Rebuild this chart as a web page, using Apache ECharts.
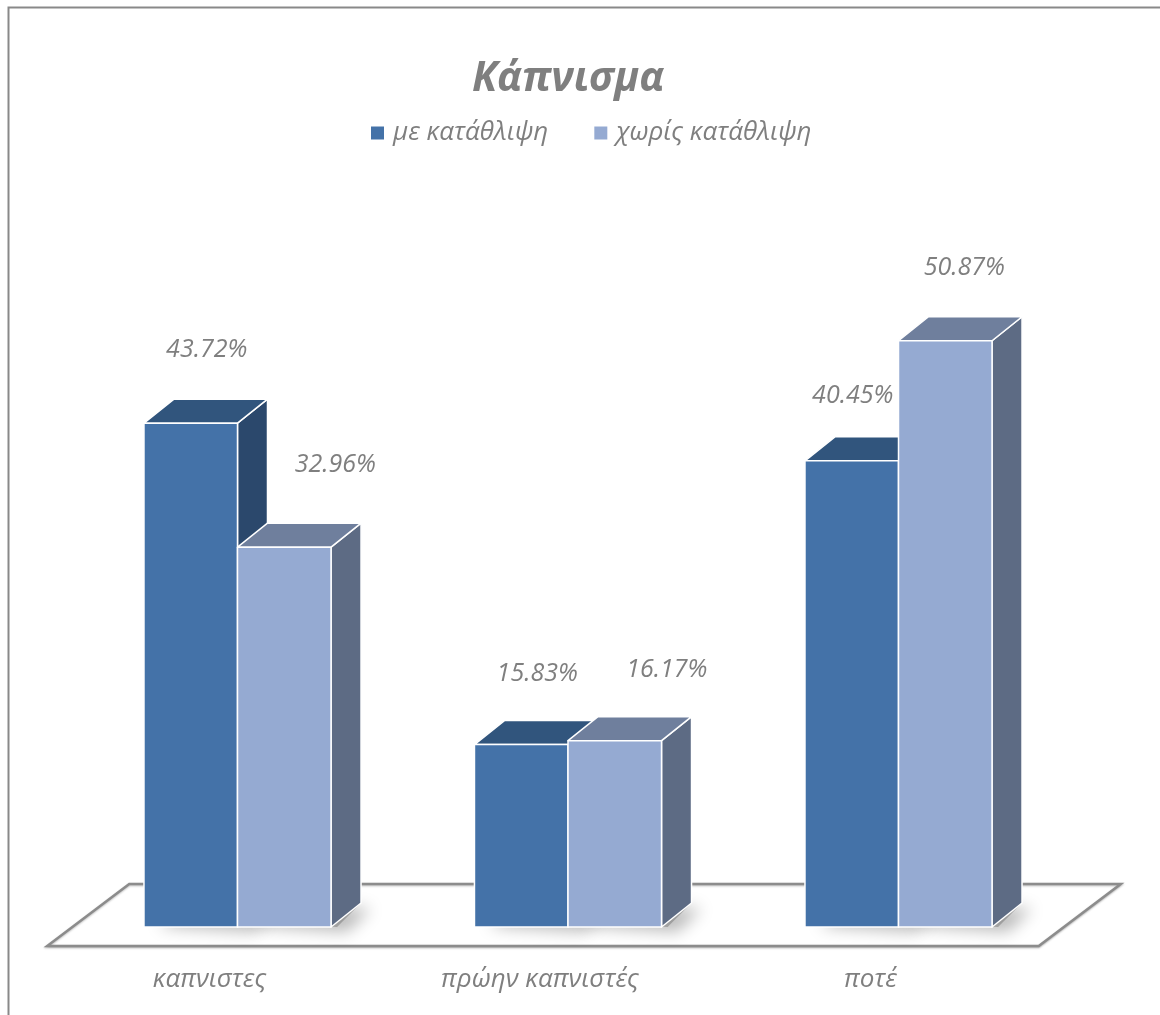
<!DOCTYPE html>
<html>
<head>
<meta charset="utf-8">
<script src="https://cdn.jsdelivr.net/npm/echarts@6/dist/echarts.min.js"></script>
<style>html,body{margin:0;padding:0;background:#fff;}#c{width:1160px;height:1015px;}</style>
</head>
<body>
<div id="c"></div>
<script>
// ---- data ----
const categories = ['καπνιστες', 'πρώην καπνιστές', 'ποτέ'];
const seriesNames = ['με κατάθλιψη', 'χωρίς κατάθλιψη'];
const withDepression = [43.72, 15.83, 40.45];
const withoutDepression = [32.96, 16.17, 50.87];
const titleText = 'Κάπνισμα';

// ---- layout / style ----
const FONT = '"Open Sans", "Noto Sans", sans-serif';
const TEXT_GRAY = '#7f7f7f';
const faces = [
  { front: '#4472a8', top: '#31557d', side: '#2b486c' },
  { front: '#95aad2', top: '#6f7f9d', side: '#5d6b84' }
];
const DEPTH_X = 30, DEPTH_Y = -24;
const BAR_FRAC = 0.283;
// label nudges (px) per series per category, relative to front-face centre / top
const labelNudge = [
  [[16, -73], [16, -71], [1, -65]],
  [[51, -82], [52, -71], [19, -73]]
];

function barRenderer(s) {
  return function (params, api) {
    const ci = api.value(0), v = api.value(1);
    const top = api.coord([ci, v]);
    const base = api.coord([ci, 0]);
    const band = api.size([1, 0])[0];
    const w = band * BAR_FRAC;
    const x0 = s === 0 ? top[0] - w : top[0];
    const x1 = x0 + w;
    const yt = top[1], yb = base[1];
    const dx = DEPTH_X, dy = DEPTH_Y;
    const c = faces[s];
    const edge = { stroke: '#ffffff', lineWidth: 1.5, lineJoin: 'round' };
    const nd = labelNudge[s][ci];
    return {
      type: 'group',
      children: [
        { type: 'polygon', z2: -10, shape: { points: [[x0 + 4, yb - 6], [x0 + dx, yb + dy], [x1 + dx, yb + dy], [x1 + 6, yb]] },
          style: { fill: 'rgba(120,120,120,0.5)', shadowBlur: 16, shadowColor: 'rgba(0,0,0,0.55)', shadowOffsetX: 10, shadowOffsetY: 5 } },
        { type: 'polygon', z2: 1, shape: { points: [[x1, yt], [x1 + dx, yt + dy], [x1 + dx, yb + dy], [x1, yb]] },
          style: Object.assign({ fill: c.side }, edge) },
        { type: 'polygon', z2: 1, shape: { points: [[x0, yt], [x0 + dx, yt + dy], [x1 + dx, yt + dy], [x1, yt]] },
          style: Object.assign({ fill: c.top }, edge) },
        { type: 'rect', z2: 1, shape: { x: x0, y: yt, width: w, height: yb - yt },
          style: Object.assign({ fill: c.front }, edge) },
        { type: 'text', z2: 2, style: {
            text: v.toFixed(2) + '%', x: (x0 + x1) / 2 + nd[0], y: yt + nd[1],
            align: 'center', verticalAlign: 'middle',
            font: 'italic 25px ' + FONT, fill: TEXT_GRAY } }
      ]
    };
  };
}

function floorRenderer(params, api) {
  const cs = params.coordSys;
  const yb = cs.y + cs.height;
  const xl = cs.x, xr = cs.x + cs.width;
  return {
    type: 'polygon', z2: -20,
    shape: { points: [[xl - 25, yb + 19], [xl + 57, yb - 43], [xr + 57, yb - 43], [xr - 25, yb + 19]] },
    style: { fill: '#ffffff', stroke: '#8c8c8c', lineWidth: 2.5,
             shadowBlur: 2, shadowColor: 'rgba(0,0,0,0.25)', shadowOffsetY: 1 }
  };
}

const chart = echarts.init(document.getElementById('c'), null, { renderer: 'canvas' });
chart.setOption({
  animation: false,
  backgroundColor: '#ffffff',
  title: {
    text: titleText, left: 563, top: 54, textAlign: 'center',
    textStyle: { fontFamily: FONT, fontSize: 41, fontStyle: 'italic', fontWeight: 'bold', color: TEXT_GRAY }
  },
  legend: {
    left: 366, top: 115, itemWidth: 13, itemHeight: 13, itemGap: 46, icon: 'rect',
    data: seriesNames,
    textStyle: { fontFamily: FONT, fontSize: 26, fontStyle: 'italic', color: TEXT_GRAY, padding: [0, 0, 0, 4] }
  },
  graphic: [{
    type: 'polyline', silent: true,
    shape: { points: [[8.5, 1015], [8.5, 7.5], [1160, 7.5]] },
    style: { stroke: '#898989', lineWidth: 2, fill: null }
  }],
  grid: { left: 72.25, right: 96.25, top: 235.5, bottom: 88 },
  xAxis: {
    type: 'category', data: categories,
    axisLine: { show: false }, axisTick: { show: false }, splitLine: { show: false },
    axisLabel: { fontFamily: FONT, fontSize: 26, fontStyle: 'italic', color: TEXT_GRAY, margin: 40, padding: [0, 56, 0, 0] }
  },
  yAxis: { type: 'value', min: 0, max: 60, show: false },
  series: [
    { type: 'custom', name: 'floor', silent: true, renderItem: floorRenderer, data: [[0, 0]], encode: { x: 0, y: 1 } },
    { type: 'custom', name: seriesNames[0], itemStyle: { color: faces[0].front }, renderItem: barRenderer(0),
      data: withDepression.map((v, i) => [i, v]), encode: { x: 0, y: 1 } },
    { type: 'custom', name: seriesNames[1], itemStyle: { color: faces[1].front }, renderItem: barRenderer(1),
      data: withoutDepression.map((v, i) => [i, v]), encode: { x: 0, y: 1 } }
  ]
});
</script>
</body>
</html>
